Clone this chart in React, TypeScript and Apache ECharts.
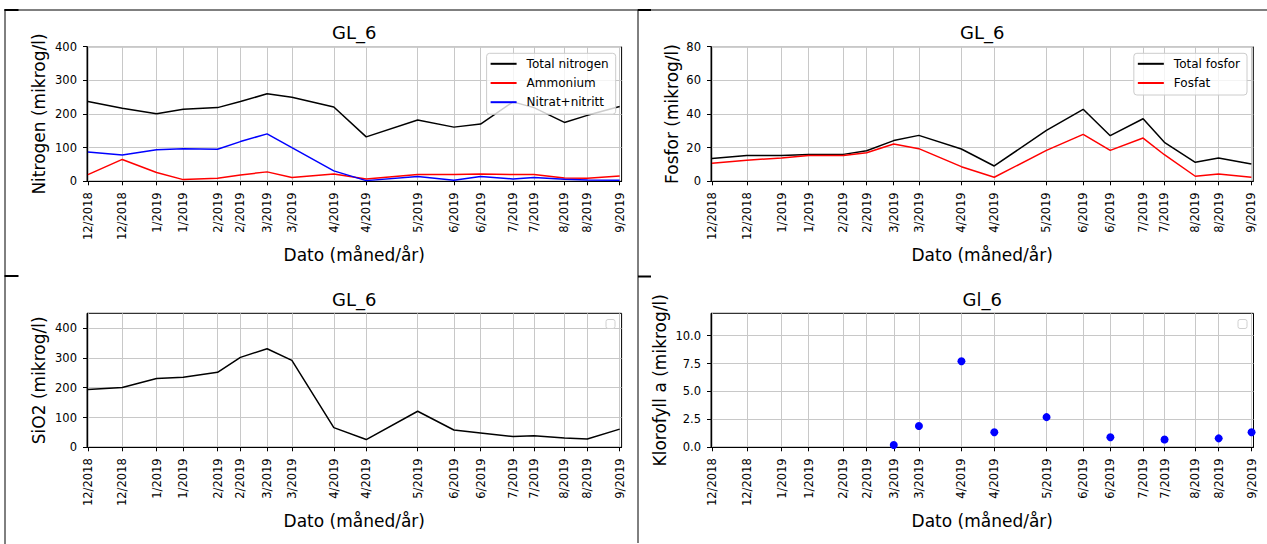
import React, { useEffect, useRef } from 'react';
import * as echarts from 'echarts';

// ---- Data ----
const sampleDates = [
  '2018-12-04', '2018-12-22', '2019-01-09', '2019-01-23', '2019-02-10', '2019-02-22',
  '2019-03-08', '2019-03-21', '2019-04-12', '2019-04-29', '2019-05-26', '2019-06-14',
  '2019-06-28', '2019-07-15', '2019-07-26', '2019-08-11', '2019-08-23', '2019-09-09',
];

const totalNitrogen = [237, 217, 201, 214, 219, 237, 260, 250, 221, 132, 182, 161, 170, 236, 219, 175, 196, 222];
const ammonium = [20, 65, 26, 5, 9, 19, 28, 11, 22, 7, 20, 20, 22, 20, 20, 10, 9, 16];
const nitratNitritt = [87, 78, 94, 97, 95, 118, 141, 100, 31, 2, 14, 3, 14, 7, 11, 6, 4, 3];

const totalFosfor = [13.5, 15.4, 15.4, 16, 16, 18.2, 24.2, 27.3, 19.2, 9.1, 30.3, 42.8, 27.1, 37.2, 23.2, 11.3, 13.9, 10.3];
const fosfat = [10.7, 12.5, 13.9, 15.4, 15.4, 17, 22.2, 19.4, 8.7, 2.4, 18.4, 27.9, 18.4, 25.7, 15.8, 3, 4.4, 2.4];

const sio2 = [194, 201, 231, 235, 252, 302, 331, 292, 66, 26, 121, 58, 48, 36, 39, 31, 28, 61];

const klorofyll: (number | null)[] = [null, null, null, null, null, null, 0.2, 1.9, 7.7, 1.35, 2.7, null, 0.9, null, 0.7, null, 0.8, 1.35];

const nitrogenTicks = [0, 100, 200, 300, 400];
const fosforTicks = [0, 20, 40, 60, 80];
const sio2Ticks = [0, 100, 200, 300, 400];
const klorofyllTicks = [0, 2.5, 5, 7.5, 10];

const titles = ['GL_6', 'GL_6', 'GL_6', 'Gl_6'];
const yNames = ['Nitrogen (mikrog/l)', 'Fosfor (mikrog/l)', 'SiO2 (mikrog/l)', 'Klorofyll a (mikrog/l)'];
const xName = 'Dato (måned/år)';

// ---- Layout / style ----
const FONT = '"DejaVu Sans", sans-serif';
const TICK_FONT = 11.5;
const DAY = 86400000;
const ts = sampleDates.map((d) => Date.parse(d + 'T00:00:00Z'));
const xMin = ts[0] - DAY * 0.5;
const xMax = ts[ts.length - 1] + DAY;

const grids = [
  { left: 87, top: 46.7, width: 534.6, height: 134.6 },
  { left: 711, top: 46.7, width: 542.3, height: 134.6 },
  { left: 87, top: 313.3, width: 534.6, height: 134 },
  { left: 711, top: 313.3, width: 542.5, height: 134 },
];

const fmtDate = (v: number) => {
  const d = new Date(v);
  return `${d.getUTCMonth() + 1}/${d.getUTCFullYear()}`;
};

function makeXAxis(gridIndex: number) {
  return {
    type: 'value',
    gridIndex,
    min: xMin,
    max: xMax,
    name: xName,
    nameLocation: 'middle',
    nameGap: 65,
    nameTextStyle: { fontFamily: FONT, fontSize: 17, color: '#000' },
    axisLine: { show: true, onZero: false, lineStyle: { color: '#000', width: 1 } },
    axisTick: { show: true, inside: false, length: 4, lineStyle: { color: '#000', width: 1 }, customValues: ts },
    axisLabel: {
      show: true,
      rotate: 90,
      margin: 11,
      fontFamily: FONT,
      fontSize: TICK_FONT,
      color: '#000',
      customValues: ts,
      formatter: (v: number) => fmtDate(v),
    },
    splitLine: { show: true, lineStyle: { color: '#c8c8c8', width: 1 } },
  };
}

function makeYAxis(gridIndex: number, max: number, ticks: number[], nameGap: number, decimals: number) {
  return {
    type: 'value',
    gridIndex,
    min: 0,
    max,
    name: yNames[gridIndex],
    nameLocation: 'middle',
    nameGap,
    nameTextStyle: { fontFamily: FONT, fontSize: 17, color: '#000' },
    axisLine: { show: true, onZero: false, lineStyle: { color: '#000', width: 1 } },
    axisTick: { show: true, inside: false, length: 4, lineStyle: { color: '#000', width: 1 }, customValues: ticks },
    axisLabel: {
      show: true,
      margin: 10,
      fontFamily: FONT,
      fontSize: TICK_FONT,
      color: '#000',
      customValues: ticks,
      formatter: (v: number) => v.toFixed(decimals),
    },
    splitLine: { show: true, lineStyle: { color: '#c8c8c8', width: 1 } },
  };
}

const pairs = (vals: (number | null)[]) =>
  vals.map((v, i) => (v === null ? null : [ts[i], v])).filter((p) => p !== null);

function lineSeries(name: string, color: string, vals: number[], idx: number) {
  return {
    type: 'line',
    name,
    xAxisIndex: idx,
    yAxisIndex: idx,
    data: pairs(vals),
    color,
    symbol: 'none',
    showSymbol: false,
    lineStyle: { color, width: 1.5 },
    itemStyle: { color },
    emphasis: { disabled: true },
    clip: true,
    z: 3,
  };
}

function legend(names: string[], right: number) {
  return {
    data: names,
    orient: 'vertical',
    right,
    top: 53.3,
    icon: 'rect',
    itemWidth: 26,
    itemHeight: 2,
    itemGap: 7.2,
    padding: [4.5, 7, 6, 4],
    backgroundColor: 'rgba(255,255,255,0.8)',
    borderColor: '#cccccc',
    borderWidth: 1,
    borderRadius: 3,
    selectedMode: false,
    textStyle: { fontFamily: FONT, fontSize: 12, color: '#000', padding: [0, 0, 0, 5] },
  };
}

const titlePos = [
  [354.3, 32.7],
  [982.2, 32.7],
  [354.3, 299.3],
  [982.2, 299.3],
];

const border = '#000';
const graphics: any[] = [
  // table frame
  { type: 'line', shape: { x1: 4.5, y1: 10, x2: 1267, y2: 10 }, style: { stroke: border, lineWidth: 1 } },
  { type: 'line', shape: { x1: 5, y1: 9.5, x2: 5, y2: 544 }, style: { stroke: border, lineWidth: 1 } },
  { type: 'line', shape: { x1: 638, y1: 9.5, x2: 638, y2: 543 }, style: { stroke: border, lineWidth: 1 } },
  { type: 'rect', shape: { x: 4.5, y: 9, width: 14, height: 2 }, style: { fill: border } },
  { type: 'rect', shape: { x: 638, y: 9, width: 13, height: 2 }, style: { fill: border } },
  { type: 'rect', shape: { x: 4.5, y: 275, width: 14, height: 2 }, style: { fill: border } },
  { type: 'rect', shape: { x: 638, y: 275.5, width: 13, height: 2 }, style: { fill: border } },
  // empty matplotlib legends
  { type: 'rect', shape: { x: 606, y: 319.5, width: 9, height: 9, r: 2 }, style: { fill: '#fff', stroke: '#d0d0d0', lineWidth: 1 }, z: 10 },
  { type: 'rect', shape: { x: 1238, y: 319.5, width: 9, height: 9, r: 2 }, style: { fill: '#fff', stroke: '#d0d0d0', lineWidth: 1 }, z: 10 },
  // titles
  ...titles.map((t, i) => ({
    type: 'text',
    x: titlePos[i][0],
    y: titlePos[i][1],
    style: { text: t, fontFamily: FONT, fontSize: 18, fill: '#000', textAlign: 'center', textVerticalAlign: 'middle' },
  })),
];

const option: any = {
  animation: false,
  backgroundColor: '#fff',
  grid: grids.map((g) => ({ ...g, containLabel: false, show: true, borderColor: '#000', borderWidth: 1, backgroundColor: '#fff' })),
  xAxis: [0, 1, 2, 3].map((i) => makeXAxis(i)),
  yAxis: [
    makeYAxis(0, 400, nitrogenTicks, 40, 0),
    makeYAxis(1, 80, fosforTicks, 30.5, 0),
    makeYAxis(2, 450, sio2Ticks, 40, 0),
    makeYAxis(3, 12, klorofyllTicks, 43, 1),
  ],
  legend: [
    legend(['Total nitrogen', 'Ammonium', 'Nitrat+nitritt'], 1267 - 615.7),
    legend(['Total fosfor', 'Fosfat'], 1267 - 1247),
  ],
  series: [
    lineSeries('Total nitrogen', '#000000', totalNitrogen, 0),
    lineSeries('Ammonium', '#ff0000', ammonium, 0),
    lineSeries('Nitrat+nitritt', '#0000ff', nitratNitritt, 0),
    lineSeries('Total fosfor', '#000000', totalFosfor, 1),
    lineSeries('Fosfat', '#ff0000', fosfat, 1),
    lineSeries('SiO2', '#000000', sio2, 2),
    {
      type: 'scatter',
      name: 'Klorofyll a',
      xAxisIndex: 3,
      yAxisIndex: 3,
      data: pairs(klorofyll),
      symbol: 'circle',
      symbolSize: 8,
      itemStyle: { color: '#0000ff', opacity: 1 },
      emphasis: { disabled: true },
      z: 3,
    },
  ],
  graphic: graphics,
};

export default function App() {
  const ref = useRef<HTMLDivElement>(null);
  useEffect(() => {
    document.body.style.margin = '0';
    const chart = echarts.init(ref.current as HTMLDivElement, null, { renderer: 'svg' });
    chart.setOption(option);
    return () => chart.dispose();
  }, []);
  return (
    <div
      ref={ref}
      style={{ position: 'absolute', left: 0, top: 0, width: 1267, height: 544, background: '#fff' }}
    />
  );
}
